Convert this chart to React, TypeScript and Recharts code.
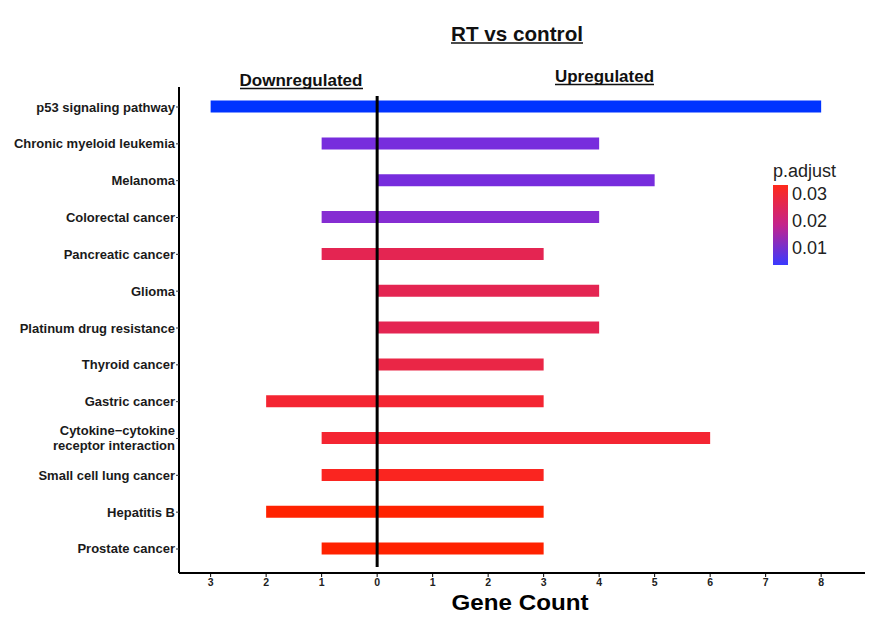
import { Bar, BarChart, Cell, ReferenceLine, XAxis, YAxis } from "recharts";

const FONT = "'Liberation Sans', Arial, sans-serif";

const pathways = [
  "p53 signaling pathway",
  "Chronic myeloid leukemia",
  "Melanoma",
  "Colorectal cancer",
  "Pancreatic cancer",
  "Glioma",
  "Platinum drug resistance",
  "Thyroid cancer",
  "Gastric cancer",
  "Cytokine\u2212cytokine\nreceptor interaction",
  "Small cell lung cancer",
  "Hepatitis B",
  "Prostate cancer",
];
const downCounts = [-3, -1, 0, -1, -1, 0, 0, 0, -2, -1, -1, -2, -1];
const upCounts = [8, 4, 5, 4, 3, 4, 4, 3, 3, 6, 3, 3, 3];
const barColors = [
  "#0033ff",
  "#772ddd",
  "#772ddd",
  "#852dd2",
  "#e42552",
  "#e42552",
  "#e42552",
  "#ea2646",
  "#f42532",
  "#f42532",
  "#fa2520",
  "#ff2200",
  "#ff2200",
];
const countTicks = [-3, -2, -1, 0, 1, 2, 3, 4, 5, 6, 7, 8];
const legendLabels = ["0.03", "0.02", "0.01"];

const rows = pathways.map((name, i) => ({ name, down: downCounts[i], up: upCounts[i] }));

function PathwayTick({ x, y, payload }: any) {
  const lines = String(payload.value).split("\n");
  const start = -(lines.length - 1) * 7.5 + 4.5;
  return (
    <text x={x} y={y} textAnchor="end" fontSize={13} fontWeight="bold" fill="#1a1a1a" fontFamily={FONT}>
      {lines.map((line, i) => (
        <tspan key={i} x={x} dy={i === 0 ? start : 15}>
          {line}
        </tspan>
      ))}
    </text>
  );
}

function ZeroLine(p: any) {
  const top = Math.min(p.y1, p.y2);
  const bottom = Math.max(p.y1, p.y2);
  return <line x1={p.x1} x2={p.x2} y1={top + 9} y2={bottom - 6} stroke="#000" strokeWidth={3} />;
}

export default function App() {
  return (
    <div style={{ position: "relative", width: 866, height: 614, fontFamily: FONT }}>
      <BarChart
        width={866}
        height={614}
        data={rows}
        layout="vertical"
        stackOffset="sign"
        margin={{ top: 79, right: 9, bottom: 0, left: 0 }}
      >
        <XAxis
          type="number"
          domain={[-3.57, 8.79]}
          ticks={countTicks}
          tickFormatter={(v: number) => String(Math.abs(v))}
          height={49}
          tickSize={4}
          tickMargin={2}
          axisLine={{ stroke: "#000", strokeWidth: 2 }}
          tickLine={{ stroke: "#000" }}
          tick={{ fontSize: 10.5, fontWeight: "bold", fill: "#222", fontFamily: FONT }}
        />
        <YAxis
          type="category"
          dataKey="name"
          width={171}
          tickSize={3}
          tickMargin={1}
          padding={{ top: 1.6, bottom: 5.6 }}
          axisLine={{ stroke: "#000", strokeWidth: 2 }}
          tickLine={{ stroke: "#333" }}
          tick={<PathwayTick />}
          interval={0}
        />
        <Bar dataKey="down" stackId="genes" barSize={12} isAnimationActive={false}>
          {rows.map((r, i) => (
            <Cell key={r.name} fill={barColors[i]} />
          ))}
        </Bar>
        <Bar dataKey="up" stackId="genes" barSize={12} isAnimationActive={false}>
          {rows.map((r, i) => (
            <Cell key={r.name} fill={barColors[i]} />
          ))}
        </Bar>
        <ReferenceLine x={0} stroke="#000" strokeWidth={3} shape={ZeroLine} />
      </BarChart>

      <svg
        width={866}
        height={614}
        style={{ position: "absolute", left: 0, top: 0, pointerEvents: "none" }}
        fontFamily={FONT}
      >
        <defs>
          <linearGradient id="padj" x1="0" y1="0" x2="0" y2="1">
            <stop offset="0%" stopColor="#ff2a1a" />
            <stop offset="50%" stopColor="#c4238c" />
            <stop offset="100%" stopColor="#3a3aff" />
          </linearGradient>
        </defs>

        <text x={509} y={32.5} textAnchor="middle" fontSize={21} fontWeight="bold" fill="#111" textLength={132} lengthAdjust="spacingAndGlyphs">
          RT vs control
        </text>
        <line x1={443} x2={575} y1={35} y2={35} stroke="#111" strokeWidth={1.5} />

        <text x={293} y={78} textAnchor="middle" fontSize={17} fontWeight="bold" fill="#111" textLength={123} lengthAdjust="spacingAndGlyphs">
          Downregulated
        </text>
        <line x1={232} x2={355} y1={80.5} y2={80.5} stroke="#111" strokeWidth={1.5} />

        <text x={596.5} y={74} textAnchor="middle" fontSize={17} fontWeight="bold" fill="#111" textLength={99} lengthAdjust="spacingAndGlyphs">
          Upregulated
        </text>
        <line x1={547} x2={646} y1={76.5} y2={76.5} stroke="#111" strokeWidth={1.5} />

        <text x={512} y={602} textAnchor="middle" fontSize={22} fontWeight="bold" fill="#000" textLength={137} lengthAdjust="spacingAndGlyphs">
          Gene Count
        </text>

        <text x={765} y={169} fontSize={18} fill="#222">
          p.adjust
        </text>
        <rect x={765} y={177} width={15} height={80} fill="url(#padj)" />
        {legendLabels.map((label, i) => (
          <text key={label} x={784} y={191.5 + i * 27} fontSize={18} fill="#222">
            {label}
          </text>
        ))}
      </svg>
    </div>
  );
}
